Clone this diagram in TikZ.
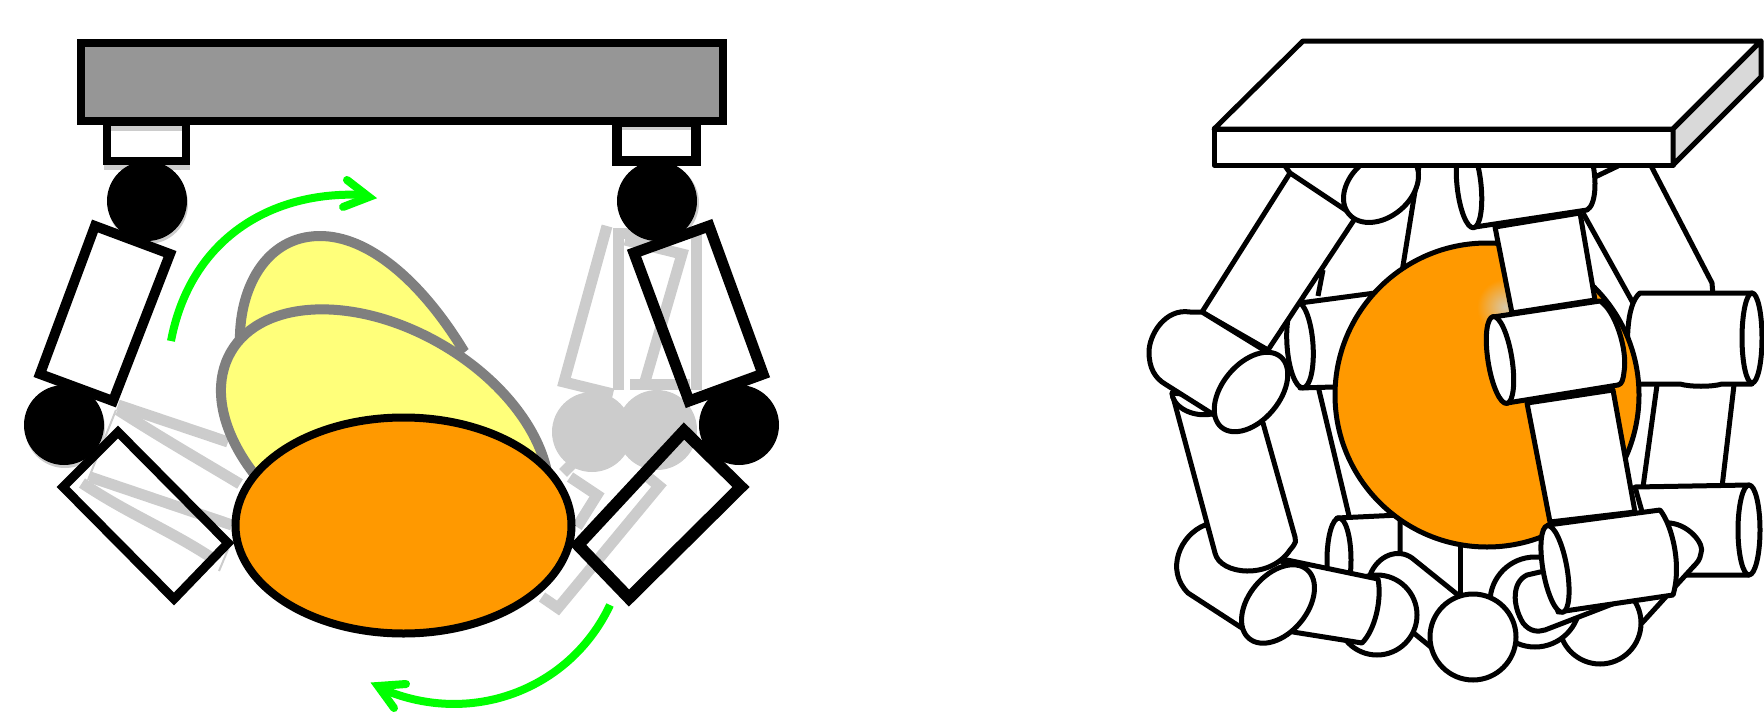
\documentclass[tikz,border=0pt]{standalone}
\definecolor{orangeb}{HTML}{FF9900}
\definecolor{yel}{HTML}{FFFF7A}
\definecolor{ghostc}{HTML}{CCCCCC}
\definecolor{basegray}{HTML}{969696}
\definecolor{outl}{HTML}{7F7F7F}
\definecolor{grn}{HTML}{00FF00}
\definecolor{glow}{HTML}{D8C8A8}
\tikzset{
  heavy/.style={draw=black,line width=8pt,line join=miter},
  ghostline/.style={draw=ghostc,line width=11pt,line join=miter},
  ghostedge/.style={draw=ghostc,line width=2pt},
  yellowpart/.style={draw=outl,fill=yel,line width=10pt},
  greenline/.style={draw=grn,line width=8pt},
  greenhead/.style={draw=grn,line width=8pt,line cap=round,line join=miter,miter limit=10},
  part/.style={draw=black,fill=white,line width=5pt,line join=round},
  edgeline/.style={draw=black,line width=5pt,line join=round},
}
\begin{document}
\begin{tikzpicture}[x=1pt,y=-1pt]
\useasboundingbox (0,0) rectangle (1764,712);
% ---------- left panel ----------
\draw[heavy,fill=basegray] (81,43) rectangle (723,121);
% ghost shadows
\draw[draw=ghostc,line width=7pt] (107,127) rectangle (186,166);
\draw[draw=ghostc,line width=4pt] (617,128) rectangle (696,164);
\fill[ghostc] (148,204) circle (40);
\fill[ghostc] (659,203) circle (40);
\fill[ghostc] (65,428) circle (40);
% ghost links, left
\draw[ghostline] (118,405) -- (228,442);
\draw[ghostline] (118,410) .. controls (165,440) and (200,460) .. (240,484);
\draw[ghostline] (90,477) -- (232,525);
\draw[ghostline] (82,483) .. controls (130,515) and (170,530) .. (215,560);
\draw[ghostedge] (116,410) -- (88,480);
\draw[ghostedge] (232,540) -- (219,571);
% ghost links, right
\draw[ghostline] (618,233) -- (618,390);
\draw[ghostline] (696,233) -- (696,390);
\draw[ghostline] (613,233) -- (660,233);
\draw[ghostline] (607,226) -- (564,382) -- (613,394);
\draw[ghostline] (625,240) -- (682,254) -- (644,385);
\draw[ghostline] (630,384) -- (690,384);
\fill[ghostc] (592,432) circle (40);
\fill[ghostc] (657,430) circle (40);
\draw[ghostline] (563,473) -- (600,436) -- (622,452);
\draw[ghostline] (570,477) -- (597,495) -- (577,527);
\draw[ghostline] (648,477) -- (659,486) -- (558,608) -- (542,597);
% yellow ghosts of the platform
\draw[yellowpart] (240,345) .. controls (238,290) and (265,236) .. (320,236) .. controls (368,236) and (420,280) .. (462,348) -- (400,400) -- cycle;
\draw[yellowpart,rotate around={-30:(385,441)}] (385,441) ellipse (178 and 112);
% black outlined parts
\draw[heavy] (107,122) rectangle (186,161);
\draw[heavy,line width=10pt] (617,122) rectangle (696,161);
\fill[black] (147,201) circle (40);
\fill[black] (657,201) circle (40);
\fill[black] (64,425) circle (40);
\fill[black] (739,425) circle (40);
\draw[heavy,line width=10pt] (95,226) -- (170,254) -- (113,401) -- (40,374) -- cycle;
\draw[heavy,line width=11pt] (709,226) -- (634,253) -- (689,401) -- (763,374) -- cycle;
\draw[heavy,line width=9pt] (118,432) -- (63,487) -- (174,599) -- (228,543) -- cycle;
\draw[heavy,line width=12pt] (684,431) -- (741,487) -- (629,598) -- (578,545) -- cycle;
\draw[heavy,fill=orangeb] (403.5,525.5) ellipse (168 and 108);
% green arrows
\draw[greenline] (171,341) .. controls (190,240) and (270,190) .. (364,195);
\draw[greenhead] (347,180) -- (369,197) -- (343,207);
\draw[greenline] (610,605) .. controls (570,690) and (470,728) .. (380,688);
\draw[greenhead] (406,684) -- (378,686) -- (394,708);
% ---------- right panel ----------
% back of the mechanism
\draw[edgeline] (1420,160) -- (1402,272);
\draw[edgeline] (1323,270) -- (1318,296);
\draw[edgeline] (1648,160) -- (1712,283) -- (1713,296);
\draw[edgeline] (1583,213) -- (1633,303);
\draw[edgeline] (1595,177) -- (1618,166);
% right-hand cylinders
\draw[edgeline] (1657,385) -- (1643,487);
\draw[edgeline] (1734,385) -- (1722,487);
\draw[part] (1640,293) -- (1752,293) -- (1752,384) -- (1722,384) .. controls (1712,387) and (1690,387) .. (1680,384) -- (1630,384) .. controls (1626,350) and (1625,305) .. (1640,293) -- cycle;
\draw[part] (1752,338) ellipse (10 and 45);
\draw[part] (1635,487) -- (1749,485) -- (1749,575) -- (1660,575) -- cycle;
\draw[part] (1749,530) ellipse (11 and 45);
% rear left cylinders
\draw[edgeline] (1318,386) -- (1350,520);
\draw[part] (1300,303) -- (1375,293) -- (1400,385) -- (1300,388) -- cycle;
\draw[part,rotate around={4:(1300,345)}] (1300,345) ellipse (13 and 43);
\draw[part] (1337,518) -- (1400,515) -- (1400,600) -- (1338,600) -- cycle;
\draw[part] (1339,560) ellipse (12 and 42);
\draw[edgeline] (1460,540) -- (1460,598);
% sphere
\draw[draw=black,line width=5pt,fill=orangeb] (1487,395) circle (152);
\shade[inner color=glow,outer color=orangeb] (1505,307) circle (28);
% top cylinders (hidden by the slab)
\draw[edgeline] (1283,163) -- (1290,173);
\draw[part] (1290,173) -- (1356,217) -- (1268,350) -- (1202,312) -- cycle;
\draw[part,rotate around={40:(1381,187)}] (1381,187) ellipse (42 and 30);
\draw[part] (1495,227) -- (1512,313) -- (1595,300) -- (1580,213) -- cycle;
\draw[part] (1469,160) -- (1592,160) .. controls (1597,180) and (1596,205) .. (1587,210) -- (1475,227) -- cycle;
\draw[part,rotate around={6:(1469,185)}] (1469,185) ellipse (12 and 43);
% slab
\draw[part] (1214,129) -- (1303,41) -- (1761,41) -- (1673,129) -- cycle;
\draw[part] (1214,129) rectangle (1673,165);
\draw[part,fill=black!15] (1673,129) -- (1761,41) -- (1761,77) -- (1673,165) -- cycle;
% bottom rear parts
\draw[part] (1370,575) .. controls (1378,555) and (1398,548) .. (1412,558) -- (1458,595) -- (1460,640) -- (1432,648) -- (1410,630) -- cycle;
\draw[part] (1377,615) circle (40);
% bottom left cylinder
\draw[part] (1205,525) .. controls (1180,535) and (1165,570) .. (1188,593) -- (1245,630) -- (1300,570) -- cycle;
% left lower link
\draw[part] (1172,393) -- (1215,553) .. controls (1220,575) and (1270,580) .. (1290,550) .. controls (1297,542) and (1296,540) .. (1295,537) -- (1263,423) -- cycle;
\draw[part] (1172,393) .. controls (1172,405) and (1190,418) .. (1212,414) -- (1240,400) -- cycle;
% left upper cylinder
\draw[part] (1202,312) -- (1190,312) .. controls (1165,308) and (1149,335) .. (1149,352) .. controls (1149,368) and (1155,378) .. (1165,384) -- (1222,420) -- (1280,360) -- cycle;
\draw[part,rotate around={50:(1251,392)}] (1251,392) ellipse (46 and 28.5);
% bottom small cylinder
\draw[part] (1287,560) -- (1378,579) .. controls (1382,600) and (1375,630) .. (1362,643) -- (1293,632) -- cycle;
\draw[part,rotate around={50:(1278,604)}] (1278,604) ellipse (45 and 29);
% front right rod and balls
\draw[part] (1660,522) -- (1670,523) .. controls (1690,525) and (1705,545) .. (1701,553) .. controls (1700,560) and (1697,563) .. (1693,567) -- (1642,623) -- (1610,610) -- cycle;
\draw[part] (1600,623) circle (41);
\draw[part] (1535,602) circle (45);
\draw[part] (1540,572) -- (1527,575) .. controls (1512,582) and (1512,605) .. (1523,623) .. controls (1530,632) and (1538,632) .. (1545,630) -- (1615,603) -- (1590,565) -- cycle;
\draw[part] (1473,637) circle (43);
% lower front link and cylinder
\draw[part] (1527,403) -- (1550,522) -- (1635,512) -- (1613,390) -- cycle;
\draw[part] (1548,525) -- (1660,510) .. controls (1672,525) and (1682,565) .. (1673,595) -- (1558,612) -- cycle;
\draw[part,rotate around={10:(1555,569)}] (1555,569) ellipse (12 and 44);
% upper front cylinder
\draw[part] (1493,317) -- (1600,301) .. controls (1615,310) and (1628,350) .. (1624,372) .. controls (1623,380) and (1622,384) .. (1618,385) -- (1507,403) -- cycle;
\draw[part,rotate around={9:(1500,360)}] (1500,360) ellipse (12 and 44);
\end{tikzpicture}
\end{document}
